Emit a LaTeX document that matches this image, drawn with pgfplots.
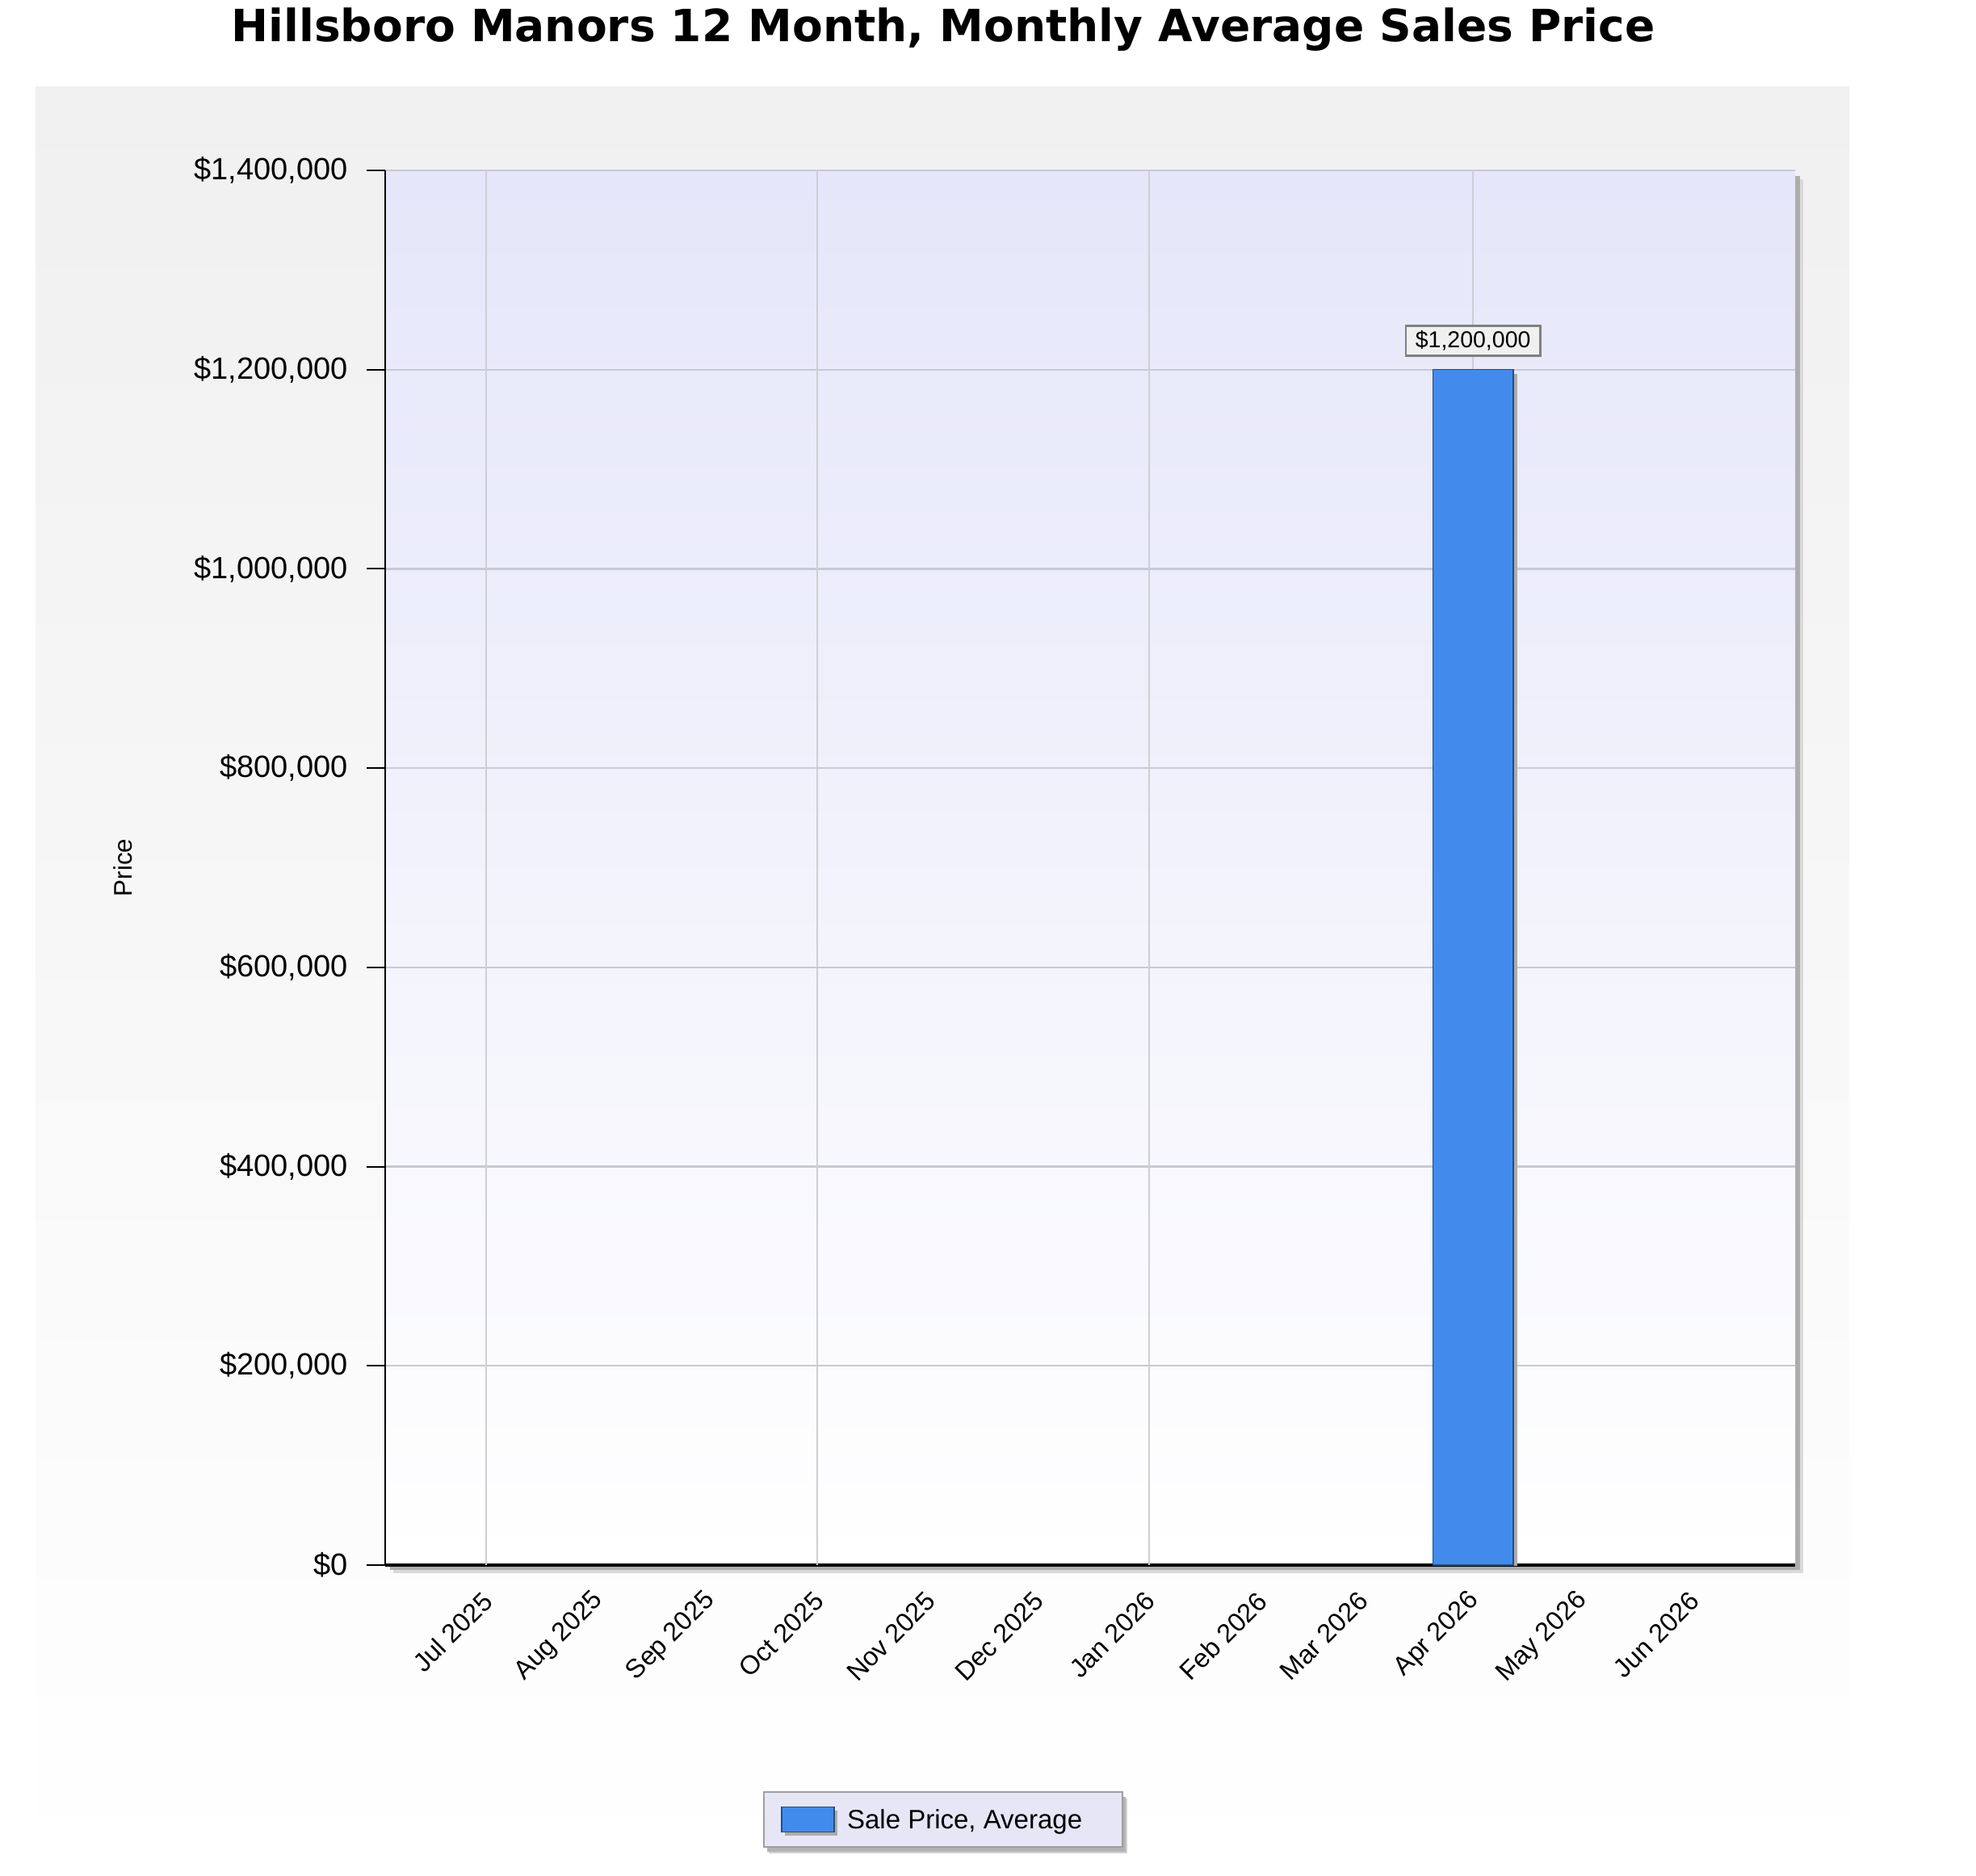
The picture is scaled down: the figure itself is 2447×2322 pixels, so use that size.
\documentclass[border=0pt]{standalone}
\usepackage{pgfplots}
\pgfplotsset{compat=1.18}
\usepackage{fontspec}
\setmainfont{Liberation Sans}
\newfontfamily\titlefont{DejaVu Sans}
\definecolor{barblue}{RGB}{66,139,236}
\definecolor{lav}{RGB}{229,230,249}
\definecolor{gridc}{RGB}{200,200,214}
\definecolor{vgridc}{RGB}{206,206,212}
\definecolor{legbg}{RGB}{230,230,246}
\definecolor{panelgray}{RGB}{240,240,240}
\begin{document}
\begin{tikzpicture}[x=0.2pt,y=0.2pt]
\useasboundingbox (0,0) rectangle (2447,2322);
\fill[white] (0,0) rectangle (2447,2322);
\shade[top color=panelgray, bottom color=white] (44,0) rectangle (2290,2214);
\fill[gray!30] (487,374) rectangle (2233,2100);
\fill[gray!65] (483,378) rectangle (2229,2104);
% legend shadow
\fill[gray!35] (952,27) rectangle (1396,95);
\fill[gray!60] (950,29) rectangle (1394,97);
\node[anchor=base, font=\titlefont\bfseries\fontsize{11}{13}\selectfont] at (1168,2270) {Hillsboro Manors 12 Month, Monthly Average Sales Price};
\begin{axis}[
  at={(95.4pt,76.8pt)}, anchor=south west,
  width=349.2pt, height=345.4pt, scale only axis,
  xmin=-27.9, xmax=363.4, ymin=0, ymax=1400000,
  axis background/.style={shade, top color=lav, bottom color=white},
  axis x line*=bottom, axis y line*=left,
  x axis line style={-, line width=0.9pt, black},
  y axis line style={-, line width=0.4pt, black},
  tick align=outside, major tick length=4.6pt,
  xtick={0,31,62,92,123,153,184,215,243,274,304,335},
  xticklabels={Jul 2025,Aug 2025,Sep 2025,Oct 2025,Nov 2025,Dec 2025,Jan 2026,Feb 2026,Mar 2026,Apr 2026,May 2026,Jun 2026},
  xtick style={draw=none},
  xticklabel style={xshift=0.6pt, yshift=-3.1pt, rotate=45, anchor=east, inner sep=0pt, font=\fontsize{6.5}{7.5}\selectfont},
  extra x ticks={0,92,184,274},
  extra x tick labels={},
  extra x tick style={grid=major, major tick length=4.4pt, tick style={draw=vgridc, line width=0.4pt}},
  x grid style={vgridc, line width=0.4pt},
  ytick={0,200000,400000,600000,800000,1000000,1200000,1400000},
  scaled y ticks=false,
  yticklabel={\$\pgfmathprintnumber[fixed,precision=0,1000 sep={,},assume math mode=true]{\tick}},
  yticklabel style={anchor=east, inner sep=0pt, xshift=-4.5pt, font=\fontsize{7.6}{9}\selectfont},
  ytick style={black, line width=0.4pt},
  ymajorgrids,
  y grid style={gridc, line width=0.45pt},
  ylabel={Price},
  ylabel style={at={(axis description cs:-0.186,0.5)}, anchor=center, font=\fontsize{6.3}{8}\selectfont},
  legend style={at={(axis description cs:0.3958,-0.1824)}, anchor=center, draw=gray!75, fill=legbg, line width=0.5pt, inner sep=0pt, nodes={inner sep=0pt, text depth=4.5pt, text height=9.1pt}, column sep=0pt, font=\fontsize{6.6}{8}\selectfont},
]
\addplot[ybar, bar width=22.3, fill=gray!65, draw=none, xshift=1pt, yshift=-1pt, forget plot] coordinates {(274,1200000)};
\addplot[ybar, bar width=22.3, fill=barblue, draw=barblue!55!black, line width=0.3pt,
  point meta=y,
  nodes near coords={\$\pgfmathprintnumber[fixed,precision=0,1000 sep={,},assume math mode=true]{\pgfplotspointmeta}},
  every node near coord/.append style={draw=gray, fill=white!94!black, line width=0.5pt, font=\fontsize{5.7}{7}\selectfont, inner xsep=2.4pt, inner ysep=1.2pt, anchor=south, yshift=3.2pt, text=black},
  legend image code/.code={\path[draw=none,fill=none] (0pt,-3pt) rectangle (20.6pt,3pt); \fill[gray!65,draw=none] (5.2pt,-3.9pt) rectangle (18.2pt,2.3pt); \draw[fill=barblue, draw=barblue!55!black, line width=0.3pt] (4.4pt,-3.1pt) rectangle (17.4pt,3.1pt);}
] coordinates {(274,1200000)};
\addlegendentry{\makebox[68.2pt][l]{Sale Price, Average}}
\end{axis}
\end{tikzpicture}
\end{document}
